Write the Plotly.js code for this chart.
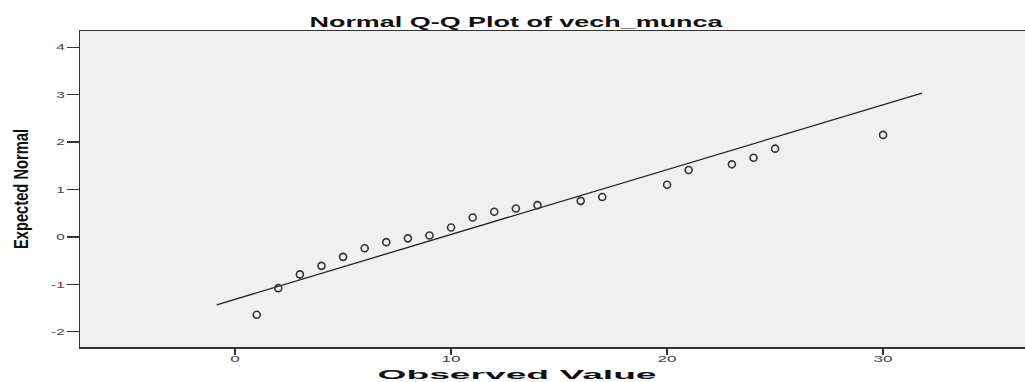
<!DOCTYPE html>
<html>
<head>
<meta charset="utf-8">
<script src="https://cdn.plot.ly/plotly-3.0.1.min.js"></script>
<style>html,body{margin:0;padding:0;background:#fff;}#chart{width:1025px;height:382px;}</style>
</head>
<body>
<div id="chart"></div>
<script>
// Observed values and their expected normal quantiles
const observed = [1, 2, 3, 4, 5, 6, 7, 8, 9, 10, 11, 12, 13, 14, 16, 17, 20, 21, 23, 24, 25, 30];
const expected = [-1.64, -1.08, -0.79, -0.61, -0.42, -0.24, -0.11, -0.03, 0.03, 0.20, 0.41, 0.53, 0.60, 0.67, 0.76, 0.84, 1.10, 1.41, 1.53, 1.67, 1.86, 2.15];
// Reference line endpoints
const lineX = [-0.85, 31.8];
const lineY = [-1.43, 3.03];
const xTicks = [0, 10, 20, 30];
const yTicks = [-2, -1, 0, 1, 2, 3, 4];

const traces = [
  {
    x: lineX, y: lineY, type: 'scatter', mode: 'lines',
    line: {color: '#222', width: 1.3}, hoverinfo: 'skip', showlegend: false
  },
  {
    x: observed, y: expected, type: 'scatter', mode: 'markers',
    marker: {symbol: 'circle-open', size: 7, color: '#333', line: {width: 1.6, color: '#333'}},
    showlegend: false
  }
];

const layout = {
  width: 1025, height: 382,
  margin: {l: 80, r: 0, t: 31, b: 35},
  paper_bgcolor: '#ffffff',
  plot_bgcolor: '#f0f0f0',
  font: {family: 'Liberation Sans, Arial, sans-serif', color: '#333'},
  title: {
    text: '<b>Normal Q-Q Plot of vech_munca</b>',
    font: {family: 'Liberation Sans, Arial, sans-serif', size: 14, color: '#111'},
    x: 516 / 1025, xref: 'container', xanchor: 'center',
    y: 1 - 22 / 382, yref: 'container', yanchor: 'middle'
  },
  xaxis: {
    range: [-7.18, 36.57],
    tickvals: xTicks, ticktext: xTicks.map(String),
    ticks: 'outside', ticklen: 6, tickwidth: 1.5, tickcolor: '#333',
    showline: true, linecolor: '#333', linewidth: 1.5, mirror: true,
    showgrid: false, zeroline: false,
    ticklabelstandoff: -3,
    tickfont: {size: 9, color: '#444'}
  },
  yaxis: {
    range: [-2.32, 4.34],
    tickvals: yTicks, ticktext: yTicks.map(String),
    ticks: 'outside', ticklen: 12, tickwidth: 1.2, tickcolor: '#333',
    showline: true, linecolor: '#333', linewidth: 1.5,
    showgrid: false, zeroline: false,
    tickfont: {size: 9, color: '#444'},
    title: {
      text: '<b>Expected Normal</b>',
      font: {family: 'Liberation Sans Narrow, Arial Narrow, sans-serif', size: 20, color: '#111'},
      standoff: 22
    }
  },
  annotations: [{
    text: '<b>Observed Value</b>',
    xref: 'paper', yref: 'paper',
    x: (517 - 80) / 945, y: -(375 - 347) / 316,
    xanchor: 'center', yanchor: 'middle', showarrow: false,
    font: {family: 'Liberation Sans, Arial, sans-serif', size: 12, color: '#111'}
  }]
};

function stretchTo(el, target) {
  const w = el.getComputedTextLength();
  if (w > 0) {
    el.setAttribute('textLength', target);
    el.setAttribute('lengthAdjust', 'spacingAndGlyphs');
  }
}
function stretchBy(sel, factor) {
  document.querySelectorAll(sel).forEach(t => {
    const w = t.getComputedTextLength();
    if (w > 0) {
      t.setAttribute('textLength', w * factor);
      t.setAttribute('lengthAdjust', 'spacingAndGlyphs');
    }
  });
}

Plotly.newPlot('chart', traces, layout, {displayModeBar: false, staticPlot: true}).then(() => {
  const t = document.querySelector('.gtitle');
  if (t) stretchTo(t, 413);
  const a = document.querySelector('.annotation-text');
  if (a) stretchTo(a, 279);
  const yt = document.querySelector('.ytitle');
  if (yt) stretchTo(yt, 120);
  stretchBy('.xtick text', 1.9);
  stretchBy('.ytick text', 1.7);
});
</script>
</body>
</html>
